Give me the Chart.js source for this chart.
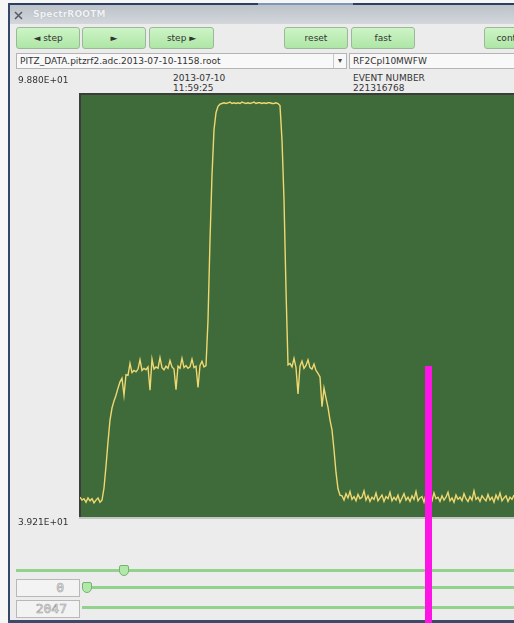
<!DOCTYPE html>
<html>
<head>
<meta charset="utf-8">
<title>SpectrROOTM</title>
<script src="https://cdn.jsdelivr.net/npm/chart.js@4.4.1/dist/chart.umd.min.js"></script>
<style>
  html, body { margin: 0; padding: 0; width: 514px; height: 623px; overflow: hidden; background: #f6f6f6;
    font-family: "DejaVu Sans", sans-serif; font-size: 9px; color: #333; }
  .abs { position: absolute; }
  #topline { left: 9px; top: 3px; width: 505px; height: 2px; background: #2d3f5e; }
  #topline2 { left: 258px; top: 3px; width: 95px; height: 2px; background: #7d95b8; }
  #leftborder { left: 8px; top: 3px; width: 2px; height: 620px; background: #34466a; }
  #bottomborder { left: 8px; top: 620px; width: 506px; height: 3px; background: #3a4a68; }
  #titlebar { left: 10px; top: 5px; width: 504px; height: 19px; background: linear-gradient(#bcc2c9, #d3d7dc); }
  #titletext { left: 33px; top: 9px; font-weight: bold; color: #f1f3f5; text-shadow: 0 0 1px #9aa2ab; letter-spacing: 0.2px; }
  #content { left: 10px; top: 24px; width: 504px; height: 596px; background: #ececec; }
  .btn { top: 27px; height: 20px; border: 1px solid #9cb89a; border-radius: 3px;
    background: linear-gradient(#cdf4c6, #aee6a6); text-align: center; line-height: 20px; overflow: hidden; white-space: nowrap; }
  .field { top: 53px; height: 14px; border: 1px solid #b4b4b4; background: #f8f8f8; line-height: 14px;
    padding-left: 3px; white-space: nowrap; overflow: hidden; box-sizing: content-box; }
  .lbl { line-height: 10px; white-space: nowrap; }
  .track { height: 3px; background: #93d28d; }
  .thumb { width: 8px; height: 9px; background: #b2e8aa; border: 1px solid #74b470; border-radius: 2px 2px 5px 5px; }
  .box { left: 16px; width: 62px; height: 16px; border: 1px solid #b8b8b8; background: #f3f3f3;
    font-family: "DejaVu Sans Mono", monospace; font-size: 13px; line-height: 16px; text-align: right;
    color: #f3f3f3; -webkit-text-stroke: 0.6px #9a9a9a; white-space: nowrap; }
  #plot { position: absolute; left: 0; top: 0; z-index: 5; pointer-events: none; }
</style>
</head>
<body>
<div class="abs" id="titlebar"></div>
<div class="abs" id="topline"></div>
<div class="abs" id="topline2"></div>
<div class="abs" id="leftborder"></div>
<div class="abs" id="content"></div>
<div class="abs" id="bottomborder"></div>
<svg class="abs" style="left:14px;top:11px" width="9" height="9" viewBox="0 0 9 9">
  <path d="M1 1 L8 8 M8 1 L1 8" stroke="#5a5f66" stroke-width="1.6"/>
</svg>
<div class="abs" id="titletext">SpectrROOTM</div>

<div class="abs btn" style="left:16px;width:62px">◄ step</div>
<div class="abs btn" style="left:82px;width:62px">►</div>
<div class="abs btn" style="left:149px;width:63px">step ►</div>
<div class="abs btn" style="left:284px;width:62px">reset</div>
<div class="abs btn" style="left:351px;width:62px">fast</div>
<div class="abs btn" style="left:484px;width:62px">continue</div>

<div class="abs field" style="left:16px;width:326px">PITZ_DATA.pitzrf2.adc.2013-07-10-1158.root</div>
<div class="abs" style="left:333px;top:54px;width:12px;height:14px;line-height:14px;text-align:center;font-size:8px;color:#444;border-left:1px solid #c8c8c8;">▾</div>
<div class="abs field" style="left:349px;width:170px">RF2Cpl10MWFW</div>

<div class="abs lbl" style="left:173px;top:73px">2013-07-10</div>
<div class="abs lbl" style="left:173px;top:83px">11:59:25</div>
<div class="abs lbl" style="left:353px;top:73px">EVENT NUMBER</div>
<div class="abs lbl" style="left:353px;top:83px">221316768</div>

<div class="abs track" style="left:16px;top:569px;width:498px"></div>
<div class="abs thumb" style="left:119px;top:565px"></div>
<div class="abs box" style="top:579px"><span style="padding-right:15px">0</span></div>
<div class="abs track" style="left:86px;top:586px;width:428px"></div>
<div class="abs thumb" style="left:82px;top:582px"></div>
<div class="abs box" style="top:600px"><span style="padding-right:12px">2047</span></div>
<div class="abs track" style="left:82px;top:606px;width:432px"></div>

<canvas id="plot" width="514" height="623"></canvas>

<script>
// Vertical range of the waveform display
const Y_MIN = 39.21;
const Y_MAX = 98.80;

// Waveform samples, segment by segment
const preBase = [42.0, 41.6, 41.8, 41.3, 41.9, 41.5, 41.8, 41.2, 41.6, 41.9, 41.3, 41.6];
const riseEdge = [43.3, 46.4, 49.8, 52.9, 54.6, 55.6, 56.4, 57.4, 58.3];
const lowFlatTop = [
  58.8, 56.4, 59.3, 59.2, 60.9, 59.6, 59.9, 59.7, 60.1, 61.4,
  59.9, 60.2, 60.0, 60.4, 57.1, 61.5, 60.1, 60.4, 60.2, 61.7,
  60.3, 60.0, 60.5, 60.2, 61.3, 60.4, 60.1, 57.2, 60.5, 60.2,
  61.6, 60.3, 60.6, 60.2, 60.4, 61.5, 60.3, 60.5, 57.5, 60.6,
  61.2, 60.4, 60.6
];
const pulse = [
  67.0, 78.3, 87.5, 93.9, 96.3, 97.2, 97.5,
  97.6, 97.7, 97.6, 97.7, 97.8, 97.6, 97.7, 97.6, 97.7, 97.6,
  97.8, 97.7, 97.6, 97.7, 97.6, 97.7, 97.8, 97.6, 97.7, 97.7,
  97.6, 97.7, 97.6, 97.7, 97.7, 97.6, 97.6, 97.7, 97.6,
  97.3, 92.4, 84.0, 71.3, 60.7
];
const lowFlatTail = [60.9, 60.4, 61.6, 60.3, 56.6, 60.5, 61.2, 60.2, 60.6, 61.4, 60.3, 60.1, 60.8, 59.9, 59.5];
const fallEdge = [59.0, 54.8, 57.4, 56.0, 54.7, 52.9, 51.5, 48.7, 45.5, 43.2, 42.3];
const postBase = [
  42.2, 41.6, 42.5, 41.9, 42.8, 41.7, 42.1, 41.5, 42.4, 41.8,
  42.0, 42.9, 41.6, 42.2, 41.4, 42.0, 41.7, 42.6, 41.5, 41.9,
  42.3, 41.4, 42.1, 41.8, 42.7, 41.5, 42.0, 41.6, 42.3, 41.3,
  41.9, 42.5, 41.6, 42.0, 41.4, 42.2, 41.7, 42.8, 41.5, 41.9,
  42.1, 41.3, 42.4, 41.7, 41.9, 41.5, 42.6, 41.8, 42.0, 41.4,
  42.2, 41.6, 42.0, 42.7, 41.5, 41.9, 41.3, 42.3, 41.7, 42.0,
  41.5, 42.5, 41.8, 41.4, 42.1, 41.6, 42.9, 41.7, 42.0, 41.4,
  42.2, 41.8, 41.5, 42.4, 41.6, 42.0, 41.3, 42.3, 41.7, 42.6,
  41.5, 41.9, 42.2, 41.4, 42.0, 41.7, 42.3
];

// Cursor marker: sample index and the level where it starts
const MARKER_INDEX = 174;
const MARKER_LEVEL = 60.6;

const samples = [].concat(preBase, riseEdge, lowFlatTop, pulse, lowFlatTail, fallEdge, postBase);
const points = samples.map((v, i) => ({ x: i, y: v }));
const X_LAST = 217;

function sciLabel(v) {
  const [m, e] = v.toExponential(3).split('e');
  const sign = e[0] === '-' ? '-' : '+';
  const digits = e.replace(/[+-]/, '').padStart(2, '0');
  return m + 'E' + sign + digits;
}

const scopeDecor = {
  id: 'scopeDecor',
  beforeDatasetsDraw(chart) {
    const { ctx, chartArea: a } = chart;
    ctx.save();
    ctx.fillStyle = '#3f6a3a';
    ctx.fillRect(a.left, a.top, a.right - a.left, a.bottom - a.top);
    ctx.fillStyle = '#3b3d3b';
    ctx.fillRect(a.left - 1, a.top - 2, a.right - a.left + 1, 2);
    ctx.fillRect(a.left - 1, a.top, 2, a.bottom - a.top);
    ctx.fillStyle = '#c4c6c4';
    ctx.fillRect(a.left - 1, a.bottom, a.right - a.left + 1, 2);
    ctx.restore();
  },
  afterDraw(chart) {
    const { ctx } = chart;
    const xs = chart.scales.x, ys = chart.scales.y;
    ctx.save();
    // cursor marker
    const mx = xs.getPixelForValue(MARKER_INDEX);
    const my = ys.getPixelForValue(MARKER_LEVEL);
    ctx.fillStyle = '#ff14e6';
    ctx.fillRect(Math.round(mx) - 3, Math.round(my), 7, chart.height - Math.round(my));
    // range labels
    ctx.fillStyle = '#333';
    ctx.font = '9px "DejaVu Sans"';
    ctx.textBaseline = 'middle';
    ctx.fillText(sciLabel(ys.max), 18, 81);
    ctx.fillText(sciLabel(ys.min), 18, 523);
    ctx.restore();
  }
};

new Chart(document.getElementById('plot'), {
  type: 'line',
  data: {
    datasets: [{
      data: points,
      borderColor: '#efd870',
      borderWidth: 1.4,
      pointRadius: 0,
      tension: 0,
      fill: false
    }]
  },
  options: {
    responsive: false,
    animation: false,
    devicePixelRatio: 1,
    layout: { padding: { left: 80, top: 95, right: 0, bottom: 106 } },
    scales: {
      x: { type: 'linear', min: 0, max: X_LAST, display: false },
      y: { min: Y_MIN, max: Y_MAX, display: false }
    },
    plugins: { legend: { display: false }, tooltip: { enabled: false } }
  },
  plugins: [scopeDecor]
});
</script>
</body>
</html>
